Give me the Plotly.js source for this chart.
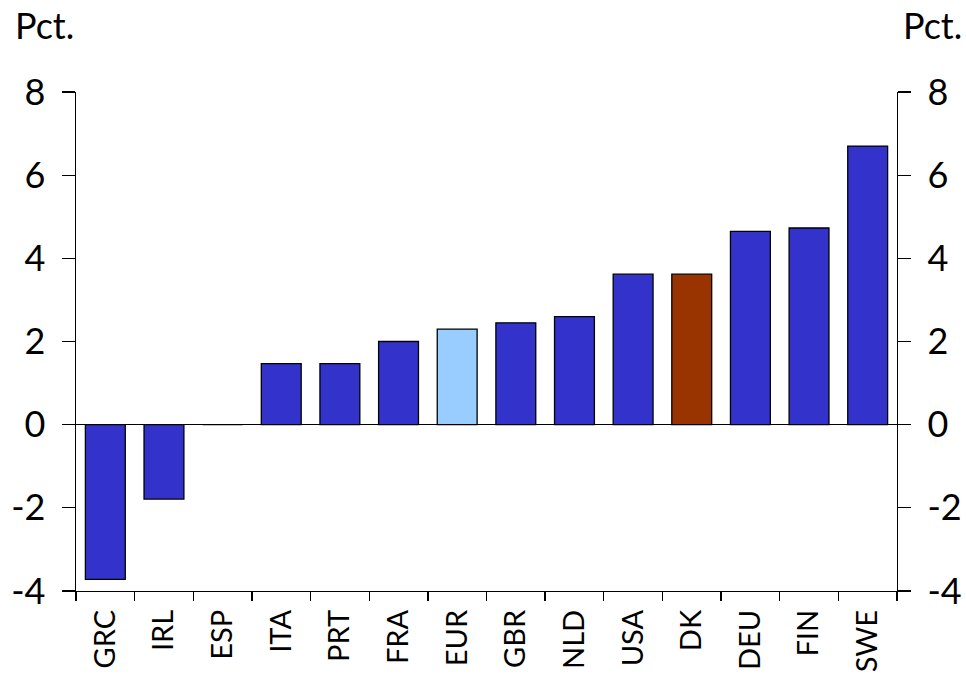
<!DOCTYPE html>
<html>
<head>
<meta charset="utf-8">
<script src="https://cdn.plot.ly/plotly-3.0.1.min.js"></script>
<style>html,body{margin:0;padding:0;background:#fff;}#chart{width:966px;height:674px;}</style>
</head>
<body>
<div id="chart"></div>
<script>
const categories = ["GRC","IRL","ESP","ITA","PRT","FRA","EUR","GBR","NLD","USA","DK","DEU","FIN","SWE"];
const values = [-3.72, -1.79, 0, 1.47, 1.47, 2.0, 2.3, 2.45, 2.6, 3.62, 3.62, 4.65, 4.73, 6.7];
const barColors = ["#3333CC","#3333CC","#3333CC","#3333CC","#3333CC","#3333CC","#99CCFF","#3333CC","#3333CC","#3333CC","#993300","#3333CC","#3333CC","#3333CC"];
const yTicks = [-4, -2, 0, 2, 4, 6, 8];
const unitLabel = "Pct.";

const FONT = "Lato, 'Open Sans', sans-serif";
const FS = 36;

const traces = [
  {
    type: "bar", x: categories, y: values,
    marker: {color: barColors, line: {color: "#000", width: 1.3}},
    width: 0.68, hoverinfo: "skip", showlegend: false
  },
  {
    type: "bar", x: categories, y: values, yaxis: "y2",
    marker: {color: "rgba(0,0,0,0)"}, width: 0.68,
    hoverinfo: "skip", showlegend: false
  }
];

const yaxisCommon = {
  range: [-4, 8], tickvals: yTicks, ticktext: yTicks.map(String),
  showgrid: false, showline: true, linecolor: "#000", linewidth: 1.3,
  ticks: "outside", ticklen: 13, tickwidth: 1.3, tickcolor: "#000",
  tickfont: {family: FONT, size: FS, color: "#000"},
  ticklabelstandoff: 9, fixedrange: true
};

const layout = {
  width: 966, height: 674,
  margin: {l: 76, r: 69, t: 92, b: 83},
  paper_bgcolor: "#fff", plot_bgcolor: "#fff",
  font: {family: FONT, size: FS, color: "#000"},
  xaxis: {
    type: "category", showgrid: false, showline: true, linecolor: "#000", linewidth: 1.3,
    ticks: "outside", tickson: "boundaries", ticklen: 9, tickwidth: 1.3, tickcolor: "#000",
    tickangle: -90, tickfont: {family: FONT, size: 29, color: "#000"},
    ticklabelstandoff: 6, zeroline: false, fixedrange: true
  },
  yaxis: Object.assign({}, yaxisCommon, {
    side: "left", zeroline: true, zerolinecolor: "#000", zerolinewidth: 1.3
  }),
  yaxis2: Object.assign({}, yaxisCommon, {
    side: "right", overlaying: "y", zeroline: false
  }),
  annotations: [
    {text: unitLabel, xref: "paper", yref: "paper", x: -0.077, y: 1.135, xanchor: "left", yanchor: "middle", showarrow: false, font: {family: FONT, size: FS, color: "#000"}},
    {text: unitLabel, xref: "paper", yref: "paper", x: 1.082, y: 1.135, xanchor: "right", yanchor: "middle", showarrow: false, font: {family: FONT, size: FS, color: "#000"}}
  ]
};

Plotly.newPlot("chart", traces, layout, {displayModeBar: false, staticPlot: true});
</script>
</body>
</html>
